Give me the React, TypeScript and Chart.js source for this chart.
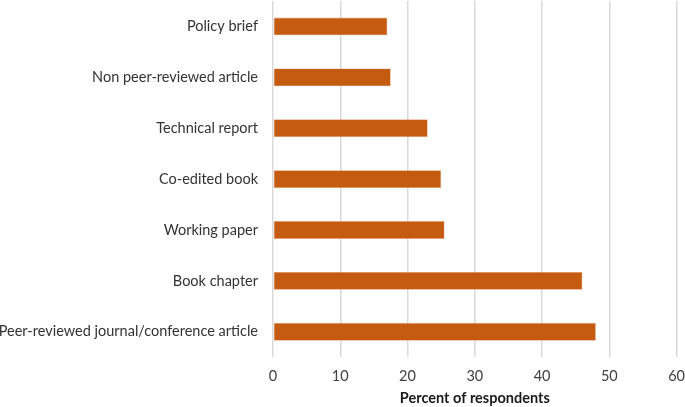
import React, { useEffect, useRef } from "react";
import { Chart, registerables } from "chart.js";

Chart.register(...registerables);

const categories = [
  "Policy brief",
  "Non peer-reviewed article",
  "Technical report",
  "Co-edited book",
  "Working paper",
  "Book chapter",
  "Peer-reviewed journal/conference article",
];
const values = [17, 17.5, 23, 25, 25.5, 46, 48];
const xTitle = "Percent of respondents";

const FONT = "Lato, 'Open Sans', sans-serif";

export default function App() {
  const ref = useRef<HTMLCanvasElement>(null);
  useEffect(() => {
    if (!ref.current) return;
    const chart = new Chart(ref.current, {
      type: "bar",
      data: {
        labels: categories,
        datasets: [
          {
            data: values,
            backgroundColor: "#C55A11",
            borderColor: "#E8A27A",
            borderWidth: 0.6,
            borderSkipped: false,
            barPercentage: 0.35,
            categoryPercentage: 1,
          },
        ],
      },
      options: {
        indexAxis: "y",
        animation: false,
        responsive: true,
        maintainAspectRatio: false,
        layout: { padding: { top: 1, right: 0, bottom: 0, left: 0 } },
        plugins: { legend: { display: false }, tooltip: { enabled: false } },
        scales: {
          x: {
            min: 0,
            max: 60,
            ticks: {
              stepSize: 10,
              color: "#404040",
              font: { family: FONT, size: 14.5 },
              padding: 0,
            },
            grid: {
              color: "#D9D9D9",
              lineWidth: 1.5,
              drawTicks: true,
              tickLength: 10,
              tickColor: "rgba(0,0,0,0)",
            },
            border: { display: false },
            title: {
              display: true,
              text: xTitle,
              color: "#1a1a1a",
              font: { family: FONT, size: 14.5, weight: "bold" },
              padding: { top: 5, bottom: 0 },
            },
          },
          y: {
            ticks: {
              color: "#333333",
              font: { family: FONT, size: 14.5 },
              padding: 0,
            },
            grid: { display: false, drawTicks: true, tickLength: 15 },
            border: { display: false },
            afterFit: (s: any) => {
              s.width = 273;
              s.paddingTop = 0;
              s.paddingBottom = 0;
            },
          },
        },
      },
    });
    return () => chart.destroy();
  }, []);
  return (
    <div style={{ position: "fixed", left: 0, top: 0, width: 685, height: 407 }}>
      <canvas ref={ref} />
    </div>
  );
}
